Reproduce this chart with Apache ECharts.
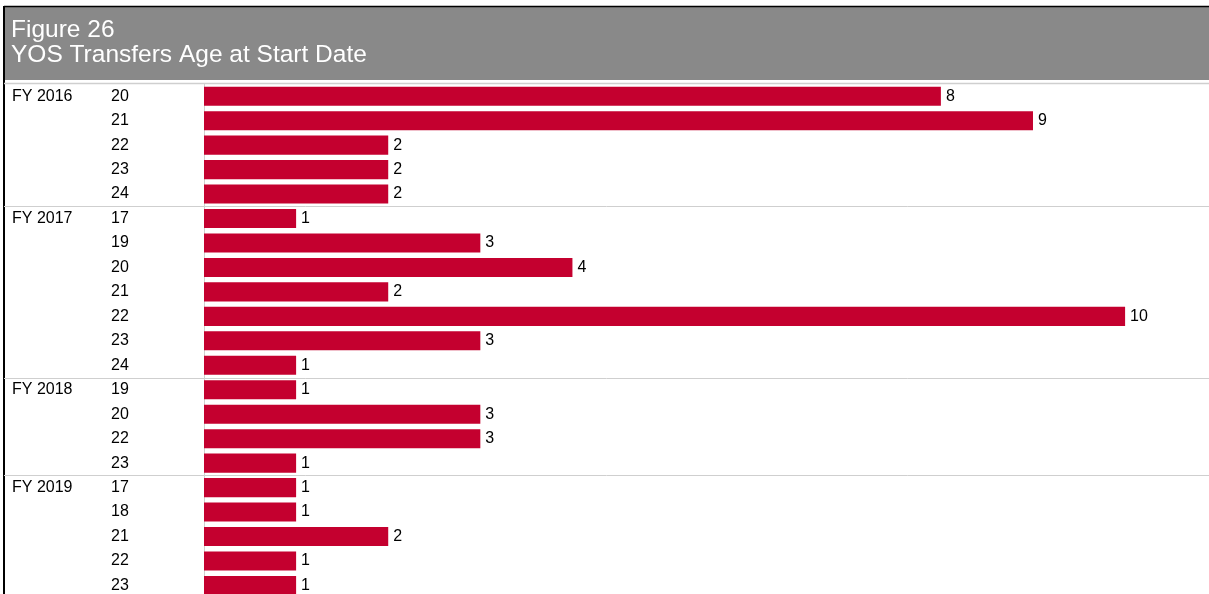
<!DOCTYPE html>
<html>
<head>
<meta charset="utf-8">
<script src="https://cdn.jsdelivr.net/npm/echarts@6/dist/echarts.min.js"></script>
<style>
  html, body { margin: 0; padding: 0; background: #fff; overflow: hidden; }
  #main { width: 1209px; height: 620px; }
</style>
</head>
<body>
<div id="main"></div>
<script>
// fiscal years and the ages listed under each one
var years = ['FY 2016', 'FY 2017', 'FY 2018', 'FY 2019']
var ages2016 = [20, 21, 22, 23, 24]
var ages2017 = [17, 19, 20, 21, 22, 23, 24]
var ages2018 = [19, 20, 22, 23]
var ages2019 = [17, 18, 21, 22, 23]
// transfer counts, same order as the ages
var counts2016 = [8, 9, 2, 2, 2]
var counts2017 = [1, 3, 4, 2, 10, 3, 1]
var counts2018 = [1, 3, 3, 1]
var counts2019 = [1, 1, 2, 1, 1]

var ageGroups = [ages2016, ages2017, ages2018, ages2019]
var countGroups = [counts2016, counts2017, counts2018, counts2019]

var rowKeys = []
var ageLabels = []
var yearLabels = []
var values = []
var groupEnds = []
for (var g = 0; g < years.length; g++) {
  for (var i = 0; i < ageGroups[g].length; i++) {
    rowKeys.push('r' + rowKeys.length)
    ageLabels.push(String(ageGroups[g][i]))
    yearLabels.push(i === 0 ? years[g] : '')
    values.push(countGroups[g][i])
  }
  groupEnds.push(rowKeys.length - 1)
}

var font = 'Liberation Sans, Arial, Helvetica, sans-serif'
var rowH = 24.46
var gridTop = 84
var gridLeft = 204

// the chart runs past the bottom of the window, like the original cut-off figure
var myChart = echarts.init(document.getElementById('main'))
var option = {
  animation: false,
  grid: {
    left: gridLeft,
    top: gridTop,
    width: 1004,
    height: rowH * rowKeys.length
  },
  xAxis: {
    type: 'value',
    min: 0,
    max: 10.9,
    show: false
  },
  yAxis: [
    {
      type: 'category',
      data: rowKeys,
      inverse: true,
      axisLine: { show: true, lineStyle: { color: '#cfcfcf', width: 1 } },
      axisTick: { show: false },
      axisLabel: {
        margin: gridLeft - 111,
        align: 'left',
        fontFamily: font,
        fontSize: 16,
        color: '#000',
        formatter: function (v, idx) { return ageLabels[idx] }
      }
    },
    {
      type: 'category',
      data: rowKeys,
      inverse: true,
      position: 'left',
      axisLine: { show: false },
      axisTick: { show: false },
      axisLabel: {
        margin: gridLeft - 12,
        align: 'left',
        fontFamily: font,
        fontSize: 16,
        color: '#000',
        formatter: function (v, idx) { return yearLabels[idx] }
      }
    }
  ],
  series: [
    {
      type: 'bar',
      data: values,
      barCategoryGap: '22%',
      itemStyle: { color: '#c4002f' },
      label: {
        show: true,
        position: 'right',
        distance: 5,
        fontFamily: font,
        fontSize: 16,
        color: '#000'
      }
    }
  ]
}
myChart.setOption(option)

// header box, borders and separators between fiscal years
var graphics = [
  { type: 'rect', shape: { x: 4, y: 7, width: 1205, height: 73 }, style: { fill: '#898989' } },
  { type: 'line', shape: { x1: 4, y1: 6.5, x2: 1209, y2: 6.5 }, style: { stroke: '#000', lineWidth: 1.5 } },
  { type: 'line', shape: { x1: 4, y1: 6, x2: 4, y2: 620 }, style: { stroke: '#000', lineWidth: 2 } },
  { type: 'line', shape: { x1: 4, y1: 83.5, x2: 1209, y2: 83.5 }, style: { stroke: '#cfcfcf', lineWidth: 1.5 } },
  { type: 'text', x: 11, y: 18, style: { text: 'Figure 26', fill: '#fff', font: '24.5px ' + font } },
  { type: 'text', x: 11, y: 43, style: { text: 'YOS Transfers Age at Start Date', fill: '#fff', font: '24.5px ' + font } }
]
for (var k = 0; k < groupEnds.length - 1; k++) {
  var yc = myChart.convertToPixel({ yAxisIndex: 0 }, rowKeys[groupEnds[k]])
  var ySep = Math.round(yc + rowH / 2) + 0.5
  graphics.push({
    type: 'line',
    shape: { x1: 4, y1: ySep, x2: 1209, y2: ySep },
    style: { stroke: '#cfcfcf', lineWidth: 1 }
  })
}
myChart.setOption({ graphic: graphics })
</script>
</body>
</html>
